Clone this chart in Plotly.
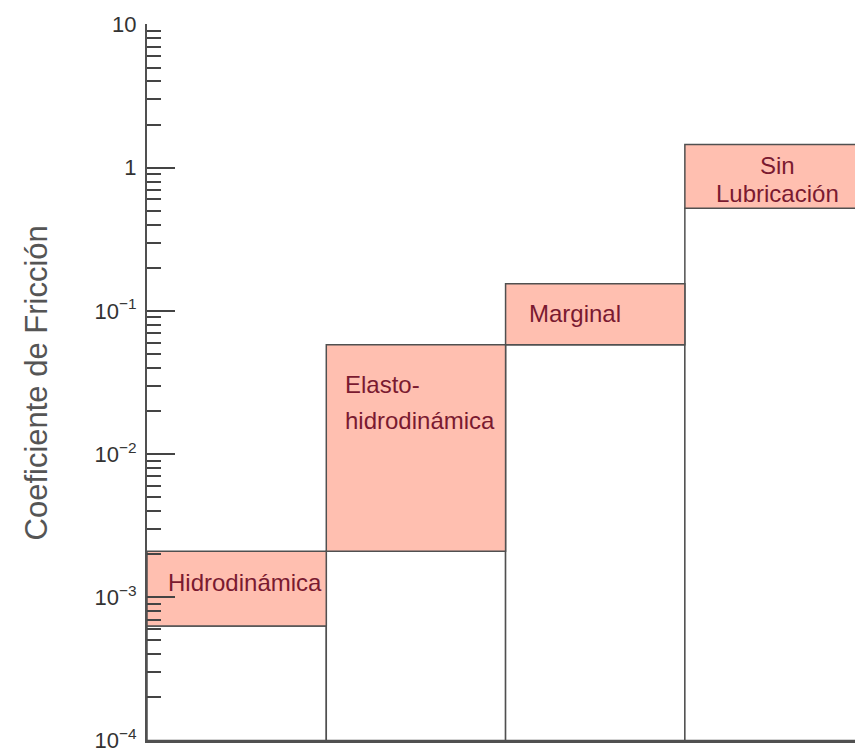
import plotly.graph_objects as go

categories = ["Hidrodinámica", "Elasto-hidrodinámica", "Marginal", "Sin Lubricación"]
low = [6.3e-4, 2.1e-3, 0.058, 0.52]
high = [2.1e-3, 0.058, 0.155, 1.45]
axis_min = 1e-4
tick_vals = [1e-4, 1e-3, 1e-2, 1e-1, 1, 10]
tick_text = ["10<sup>−4</sup>", "10<sup>−3</sup>", "10<sup>−2</sup>", "10<sup>−1</sup>", "1", "10"]
label_lines = ["Hidrodinámica", "Elasto-", "hidrodinámica", "Marginal", "Sin", "Lubricación"]

x = list(range(len(categories)))
EDGE = "#505050"
PINK = "#FFBFB0"
TXT = "#7A1A30"

fig = go.Figure()
fig.add_trace(go.Bar(
    x=x, y=[l - axis_min for l in low], base=[axis_min] * len(x), width=1,
    marker=dict(color="white", line=dict(color=EDGE, width=1.5)),
    hoverinfo="skip", showlegend=False))
fig.add_trace(go.Bar(
    x=x, y=[h - l for h, l in zip(high, low)], base=low, width=1,
    marker=dict(color=PINK, line=dict(color=EDGE, width=1.5)),
    hoverinfo="skip", showlegend=False))

minor_vals = [m * 10 ** e for e in range(-4, 1) for m in range(2, 10)]

fig.update_layout(
    width=855, height=752,
    margin=dict(l=147, r=0, t=24, b=11),
    plot_bgcolor="white", paper_bgcolor="white",
    barmode="overlay",
    font=dict(family="Liberation Sans, Arial, sans-serif", color="#333"),
    xaxis=dict(range=[-0.5, 3.449], showticklabels=False, ticks="", showgrid=False,
               zeroline=False, showline=True, linecolor=EDGE, linewidth=2,
               automargin=False),
    yaxis=dict(type="log", range=[-4.003, 1.003], tickmode="array", tickvals=tick_vals,
               ticktext=tick_text, ticks="inside", ticklen=28, tickwidth=2,
               tickcolor="#444", showgrid=False, zeroline=False, showline=True,
               linecolor=EDGE, linewidth=2, tickfont=dict(size=22, color="#333"),
               ticklabelstandoff=4, automargin=False, ticklabeloverflow="allow",
               minor=dict(tickvals=minor_vals, ticks="inside", ticklen=14,
                          tickwidth=2, tickcolor="#444", showgrid=False)),
)

# labels inside boxes (x in category units, y in log10 units)
ann_pos = [(0.047, -2.898, "center"), (0.594, -1.517, "left"), (0.594, -1.762, "left"),
           (1.886, -1.015, "center"), (3.016, 0.017, "center"), (3.016, -0.178, "center")]
for (ax, ay, anchor), txt in zip(ann_pos, label_lines):
    fig.add_annotation(x=ax, y=ay, xref="x", yref="y", text=txt, showarrow=False,
                       xanchor=anchor, yanchor="middle", align=anchor,
                       font=dict(size=24, color=TXT))

fig.add_annotation(x=-0.1554, y=0.5, xref="paper", yref="paper",
                   text="Coeficiente de Fricción", textangle=-90, showarrow=False,
                   font=dict(size=31, color="#555"), xanchor="center", yanchor="middle")

# remove the default page margin so the figure fills the window exactly
fig.write_html("out.html", config={"displayModeBar": False},
               post_script="document.body.style.margin='0px';")
